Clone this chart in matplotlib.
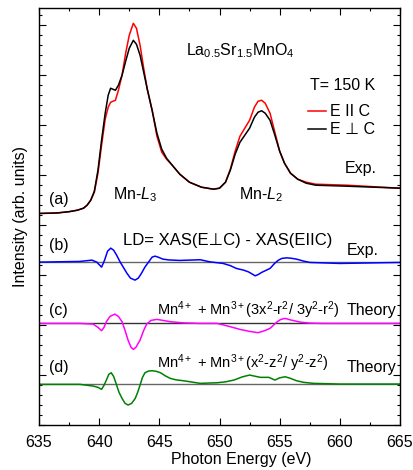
import numpy as np
import matplotlib
matplotlib.use("Agg")
import matplotlib.pyplot as plt
from matplotlib.ticker import MultipleLocator

plt.rcParams['font.family'] = ['Liberation Sans', 'DejaVu Sans']
plt.rcParams['mathtext.fontset'] = 'custom'
plt.rcParams['mathtext.rm'] = 'Liberation Sans'
plt.rcParams['mathtext.it'] = 'Liberation Sans:italic'
plt.rcParams['font.size'] = 11.5

# (a) XAS spectra, arb. units
e_a = [635.0, 636.5, 637.5, 638.2, 638.7, 639.0, 639.3, 639.6, 639.9, 640.2,
       640.5, 640.75, 640.95, 641.15, 641.35, 641.6, 641.9, 642.2, 642.5, 642.84,
       643.1, 643.4, 643.7, 644.0, 644.4, 644.8, 645.2, 645.6, 646.0, 646.7,
       647.5, 648.5, 649.5, 650.0, 650.5, 650.9, 651.3, 651.7, 652.1, 652.5,
       652.9, 653.2, 653.5, 653.8, 654.2, 654.6, 655.0, 655.4, 655.9, 656.5,
       657.2, 658.0, 660.6, 665.0]
xas_perp = [2.117, 2.122, 2.135, 2.15, 2.17, 2.20, 2.25, 2.34, 2.55, 2.85,
            3.12, 3.30, 3.37, 3.36, 3.35, 3.40, 3.50, 3.64, 3.77, 3.85,
            3.81, 3.70, 3.53, 3.36, 3.15, 2.92, 2.76, 2.67, 2.61, 2.51,
            2.43, 2.38, 2.36, 2.37, 2.43, 2.55, 2.71, 2.83, 2.90, 2.97,
            3.08, 3.13, 3.145, 3.12, 3.05, 2.90, 2.74, 2.62, 2.52, 2.46,
            2.42, 2.40, 2.39, 2.37]
xas_par = [2.117, 2.122, 2.135, 2.15, 2.17, 2.20, 2.25, 2.33, 2.52, 2.80,
           3.06, 3.18, 3.23, 3.24, 3.25, 3.35, 3.50, 3.72, 3.90, 4.02,
           3.97, 3.80, 3.57, 3.36, 3.15, 2.89, 2.73, 2.66, 2.61, 2.51,
           2.43, 2.38, 2.36, 2.37, 2.43, 2.56, 2.74, 2.89, 2.97, 3.05,
           3.18, 3.24, 3.25, 3.22, 3.12, 2.93, 2.74, 2.62, 2.52, 2.46,
           2.43, 2.41, 2.40, 2.37]

# (b) experimental linear dichroism
e_b = [635.0, 638.4, 639.4, 639.8, 640.2, 640.45, 640.7, 640.96, 641.2, 641.45,
       641.75, 642.0, 642.3, 642.6, 642.98, 643.25, 643.5, 643.8, 644.1, 644.4,
       644.64, 644.9, 645.3, 645.8, 646.7, 648.4, 649.2, 650.3, 650.9, 651.4,
       652.0, 652.4, 652.8, 652.96, 653.2, 653.5, 653.9, 654.2, 654.6, 654.9,
       655.2, 655.6, 656.0, 656.4, 657.0, 657.5, 660.0, 665.0]
ld_exp = [0.0, 0.007, 0.02, 0.0, -0.05, 0.02, 0.11, 0.14, 0.12, 0.07,
          0.0, -0.05, -0.11, -0.16, -0.18, -0.16, -0.115, -0.05, 0.0, 0.05,
          0.06, 0.05, 0.03, 0.022, 0.017, 0.024, 0.003, -0.013, -0.035, -0.063,
          -0.08, -0.097, -0.125, -0.137, -0.125, -0.103, -0.08, -0.063, -0.01, 0.02,
          0.038, 0.043, 0.038, 0.03, 0.01, -0.003, -0.013, -0.003]

# (c) theory Mn4+ + Mn3+(3x2-r2/3y2-r2)
e_c = [635.0, 638.4, 639.5, 639.9, 640.2, 640.4, 640.6, 640.9, 641.3, 641.6,
       641.9, 642.15, 642.4, 642.65, 642.84, 643.05, 643.4, 643.7, 643.95, 644.3,
       644.8, 645.3, 645.9, 647.0, 648.4, 649.8, 650.8, 651.7, 652.5, 653.2,
       653.7, 654.2, 654.8, 655.1, 655.45, 655.9, 656.7, 657.5, 658.6, 665.0]
ld_c = [0.0, 0.0, -0.007, -0.04, -0.073, -0.04, 0.017, 0.07, 0.093, 0.07,
        0.017, -0.07, -0.167, -0.24, -0.26, -0.24, -0.167, -0.07, -0.007, 0.03,
        0.04, 0.03, 0.017, 0.005, 0.0, 0.0, -0.03, -0.06, -0.08, -0.093,
        -0.075, -0.05, 0.017, 0.04, 0.05, 0.035, 0.013, 0.003, 0.0, 0.0]

# (d) theory Mn4+ + Mn3+(x2-z2/y2-z2)
e_d = [635.0, 638.4, 639.5, 639.9, 640.2, 640.4, 640.6, 640.8, 641.0, 641.2,
       641.4, 641.65, 641.9, 642.15, 642.4, 642.7, 643.0, 643.2, 643.4, 643.6,
       643.8, 644.1, 644.4, 644.75, 645.1, 645.5, 645.9, 646.4, 647.0, 648.4,
       649.8, 650.5, 651.2, 651.9, 652.5, 653.0, 653.4, 654.1, 654.6, 655.0,
       655.45, 655.9, 656.4, 657.0, 657.8, 660.0, 665.0]
ld_d = [0.0, 0.0, -0.017, -0.03, -0.05, -0.01, 0.043, 0.10, 0.116, 0.08,
        0.01, -0.08, -0.14, -0.19, -0.207, -0.19, -0.14, -0.08, -0.007, 0.07,
        0.115, 0.133, 0.136, 0.13, 0.116, 0.085, 0.06, 0.045, 0.036, 0.01,
        0.016, 0.025, 0.043, 0.075, 0.093, 0.08, 0.07, 0.07, 0.043, 0.065,
        0.076, 0.06, 0.036, 0.02, 0.01, 0.003, 0.003]

off_b, off_c, off_d = 1.63, 1.017, 0.407

fig = plt.figure(figsize=(4.14, 4.70), dpi=100)
ax = fig.add_axes([0.0942, 0.0957, 0.872, 0.8866])

ax.plot(e_a, xas_par, color='red', lw=1.1, label='E II C')
ax.plot(e_a, xas_perp, color='black', lw=1.1, label='E \u22a5 C')

ax.axhline(off_b, color='0.4', lw=1.0)
ax.axhline(off_c, color='0.2', lw=1.0)
ax.axhline(off_d, color='0.4', lw=1.0)
ax.plot(e_b, np.array(ld_exp) + off_b, color='blue', lw=1.1)
ax.plot(e_c, np.array(ld_c) + off_c, color='magenta', lw=1.1)
ax.plot(e_d, np.array(ld_d) + off_d, color='green', lw=1.1)

ax.set_xlim(635, 665)
ax.set_ylim(0, 4.17)
ax.xaxis.set_major_locator(MultipleLocator(5))
ax.xaxis.set_minor_locator(MultipleLocator(2.5))
ax.yaxis.set_major_locator(MultipleLocator(0.5))
ax.yaxis.set_minor_locator(MultipleLocator(0.1))
ax.tick_params(which='both', direction='in', top=True, right=True, labelleft=False)
ax.tick_params(which='major', length=5, width=0.8)
ax.tick_params(which='minor', length=2.5, width=0.8)
ax.tick_params(axis='x', pad=7, labelsize=11.5)
for s in ax.spines.values():
    s.set_linewidth(1.0)

ax.set_ylabel('Intensity (arb. units)', fontsize=11.5, labelpad=8)
ax.set_xlabel('Photon Energy (eV)', fontsize=11.5)
ax.xaxis.set_label_coords(0.56, -0.065)

ax.legend(loc='upper left', bbox_to_anchor=(0.745, 0.77), frameon=False,
          handlelength=1.1, handletextpad=0.3, labelspacing=0.2,
          borderpad=0, borderaxespad=0, fontsize=11.5)

ax.text(651.7, 3.75, 'La$_{0.5}$Sr$_{1.5}$MnO$_4$', ha='center', va='center', fontsize=11.5)
ax.text(657.5, 3.40, 'T= 150 K', ha='left', va='center')
ax.text(660.4, 2.57, 'Exp.', ha='left', va='center')
ax.text(635.8, 2.26, '(a)', ha='left', va='center')
ax.text(641.15, 2.26, r'Mn-$\mathit{L}_{\mathit{3}}$', ha='left', va='baseline')
ax.text(651.6, 2.26, r'Mn-$\mathit{L}_{\mathit{2}}$', ha='left', va='baseline')

ax.text(635.8, 1.80, '(b)', ha='left', va='center')
ax.text(642.0, 1.85, 'LD= XAS(E\u22a5C) - XAS(EIIC)', ha='left', va='center', fontsize=12)
ax.text(660.6, 1.75, 'Exp.', ha='left', va='center')

ax.text(635.8, 1.15, '(c)', ha='left', va='center')
ax.text(644.8, 1.10, r'Mn$^{4+}$ + Mn$^{3+}$(3x$^2$-r$^2$/ 3y$^2$-r$^2$)',
        ha='left', va='baseline', fontsize=10.5)
ax.text(660.6, 1.15, 'Theory', ha='left', va='center')

ax.text(635.8, 0.58, '(d)', ha='left', va='center')
ax.text(644.8, 0.567, r'Mn$^{4+}$ + Mn$^{3+}$(x$^2$-z$^2$/ y$^2$-z$^2$)',
        ha='left', va='baseline', fontsize=10.5)
ax.text(660.6, 0.573, 'Theory', ha='left', va='center')

fig.savefig('out.png', dpi=100)
